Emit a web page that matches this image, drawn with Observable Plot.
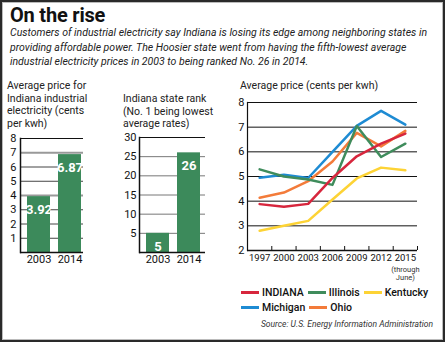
<!DOCTYPE html>
<html><head><meta charset="utf-8">
<script src="https://cdn.jsdelivr.net/npm/d3@7"></script>
<script src="https://cdn.jsdelivr.net/npm/@observablehq/plot@0.6"></script>
<style>
body{margin:0;background:#fff;}
#wrap{position:relative;width:445px;height:342px;font-family:Roboto,sans-serif;color:#1a1a1a;overflow:hidden;background:#fff}
#border{position:absolute;left:0;top:0;width:445px;height:342px;box-sizing:border-box;border:2px solid #2a2a2a;box-shadow:inset 0 0 0 1px #bbb;pointer-events:none}
.abs{position:absolute;}
#title{left:10px;top:6px;font-size:20px;font-weight:700;line-height:19px;color:#111;letter-spacing:-0.2px}
#sub{left:10px;top:26px;font-size:10.5px;font-style:italic;line-height:14.5px;white-space:nowrap;color:#222}
.ct{font-size:10.5px;line-height:12.5px;white-space:nowrap;color:#222}
#legend{left:241px;top:286px;width:198px;display:flex;flex-wrap:wrap;column-gap:4px;row-gap:2px;font-size:10.5px;font-weight:500;color:#111}
.li{display:flex;align-items:center;height:13px}
.sw{width:18px;height:3px;margin-right:3px}
#source{right:12px;top:319px;font-size:8.5px;font-style:italic;color:#333;white-space:nowrap}
svg{overflow:visible}
</style></head>
<body><div id="wrap">
<div id="title" class="abs">On the rise</div>
<div id="sub" class="abs">Customers of industrial electricity say Indiana is losing its edge among neighboring states in<br>providing affordable power. The Hoosier state went from having the fifth-lowest average<br>industrial electricity prices in 2003 to being ranked No. 26 in 2014.</div>
<div class="abs ct" style="left:7px;top:80px">Average price for<br>Indiana industrial<br>electricity (cents<br>per kwh)</div>
<div class="abs ct" style="left:123px;top:93px">Indiana state rank<br>(No. 1 being lowest<br>average rates)</div>
<div class="abs ct" style="left:240px;top:80px">Average price (cents per kwh)</div>
<div id="c1" class="abs" style="left:0;top:130px"></div>
<div id="c2" class="abs" style="left:110px;top:130px"></div>
<div id="c3" class="abs" style="left:215px;top:95px"></div>
<div id="legend" class="abs"></div>
<div id="source" class="abs">Source: U.S. Energy Information Administration</div>
<div id="border"></div>
</div>
<script>
// ---- data ----
const barYears = ["2003", "2014"];
const priceValues = [3.92, 6.87];
const rankValues = [5, 26];
const priceTicks = [1, 2, 3, 4, 5, 6, 7, 8];
const rankTicks = [5, 10, 15, 20, 25, 30];
const lineYears = [1997, 2000, 2003, 2006, 2009, 2012, 2015];
const lineTicks = [2, 3, 4, 5, 6, 7, 8];
const states = ["INDIANA", "Illinois", "Kentucky", "Michigan", "Ohio"];
const indiana  = [3.88, 3.77, 3.89, 4.94, 5.82, 6.33, 6.74];
const illinois = [5.29, 5.00, 4.88, 4.66, 7.05, 5.79, 6.33];
const kentucky = [2.80, 3.00, 3.20, 4.07, 4.92, 5.36, 5.25];
const michigan = [4.95, 5.07, 4.94, 6.00, 7.05, 7.66, 7.10];
const ohio     = [4.14, 4.35, 4.81, 5.61, 6.77, 6.22, 6.85];
const stateColors = ["#d7263d", "#3f8c5c", "#fdd335", "#1e8bd3", "#f37b3a"];
const footnote = ["(through", "June)"];

const barFill = "#3c8a5b";
const font = {fontFamily: "Roboto, sans-serif", fontSize: "11px", color: "#111", background: "transparent", overflow: "visible"};

function barChart(values, ticks, max, opts) {
  const data = barYears.map((y, i) => ({year: y, v: values[i]}));
  const hl = new Set(opts.highlight ? values.map(Math.round) : []);
  return Plot.plot({
    width: opts.width, height: 140,
    marginLeft: opts.ml, marginRight: opts.mr, marginTop: opts.mt, marginBottom: 18,
    style: font,
    x: {domain: barYears, insetLeft: 7, insetRight: opts.ir, paddingInner: opts.pi, paddingOuter: 0, label: null, tickSize: 0, tickPadding: 3},
    y: {domain: [0, max], ticks, tickFormat: d => String(d), label: null, tickSize: 0, tickPadding: opts.tp},
    marks: [
      Plot.ruleY(ticks, {stroke: d => d === max ? "#111" : (hl.has(d) ? "#999" : opts.grid), strokeWidth: d => hl.has(d) ? 2 : 1}),
      Plot.barY(data, {x: "year", y: "v", fill: barFill}),
      Plot.text(data, {x: "year", y: "v", text: d => String(d.v), dy: 13, fill: "white", fontWeight: "bold", fontSize: 13}),
      Plot.ruleY([0], {stroke: "#111", strokeWidth: 1.5}),
      Plot.frame({anchor: "left", stroke: "#111", strokeWidth: 1.5})
    ]
  });
}

document.getElementById("c1").append(barChart(priceValues, priceTicks, 8, {width: 92, ml: 20, mr: 9, mt: 8, ir: 2, pi: 8 / 31, tp: 4, grid: "#444", highlight: true}));
document.getElementById("c2").append(barChart(rankValues, rankTicks, 30, {width: 100, ml: 29, mr: 5, mt: 7, ir: 4, pi: 8 / 32, tp: 3, grid: "#777", highlight: false}));

// line chart
const series = {INDIANA: indiana, Illinois: illinois, Kentucky: kentucky, Michigan: michigan, Ohio: ohio};
const drawOrder = ["Michigan", "Ohio", "Kentucky", "Illinois", "INDIANA"];
const lineData = [];
for (const s of drawOrder) series[s].forEach((v, i) => lineData.push({state: s, year: lineYears[i], v}));
const step = lineYears[1] - lineYears[0];
const mids = lineYears.map(y => y + step / 2);

document.getElementById("c3").append(Plot.plot({
  width: 225, height: 195,
  marginLeft: 32, marginRight: 23, marginTop: 7, marginBottom: 40,
  style: font,
  x: {domain: [lineYears[0] - step / 2, lineYears[lineYears.length - 1] + step / 2], label: null},
  y: {domain: [2, 8], label: null},
  color: {domain: states, range: stateColors},
  marks: [
    Plot.ruleY(lineTicks, {stroke: "#111", strokeWidth: 1}),
    Plot.ruleX(mids, {x: d => d, y1: 2, y2: 2, insetTop: -4, stroke: "#111"}),
    Plot.frame({anchor: "left", stroke: "#111", strokeWidth: 1.2}),
    Plot.ruleY([2], {stroke: "#111", strokeWidth: 1.5}),
    Plot.line(lineData, {x: "year", y: "v", stroke: "state", z: "state", strokeWidth: 2.5}),
    Plot.axisY({ticks: lineTicks, tickFormat: d => String(d), tickSize: 0, tickPadding: 3, label: null}),
    Plot.axisX({ticks: lineYears, tickFormat: d => String(d), tickSize: 0, tickPadding: 4, fontSize: 9.5, label: null}),
    Plot.text([footnote.join("\n")], {x: () => lineYears[lineYears.length - 1], y: () => 2, text: d => d, dy: 15, lineAnchor: "top", fontSize: 7.5, lineHeight: 1.15, fill: "#333"})
  ]
}));

// legend
const leg = document.getElementById("legend");
states.forEach((s, i) => {
  const it = document.createElement("div");
  it.className = "li";
  it.innerHTML = `<span class="sw" style="background:${stateColors[i]}"></span><span>${s}</span>`;
  leg.append(it);
});
</script>
</body></html>
